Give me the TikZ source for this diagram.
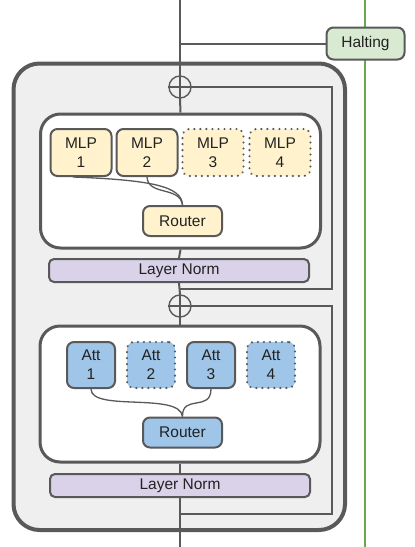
\documentclass[tikz,border=0pt]{standalone}
\usepackage{fontspec}
\setmainfont{Liberation Sans}
\definecolor{edge}{HTML}{595959}
\definecolor{outerfill}{HTML}{EFEFEF}
\definecolor{mlpfill}{HTML}{FFF2CC}
\definecolor{attfill}{HTML}{9FC5E8}
\definecolor{lnfill}{HTML}{D9D2E9}
\definecolor{haltfill}{HTML}{D9EAD3}
\definecolor{haltline}{HTML}{6AA84F}
\definecolor{txt}{HTML}{222222}
\tikzset{
  x=1pt, y=-1pt,
  wire/.style={draw=edge, line width=2pt},
  thin wire/.style={draw=edge, line width=1.3pt},
  box/.style={draw=edge, line width=2pt, rounded corners=7pt, inner sep=0pt, align=center,
    text=txt, font=\fontsize{15.5}{19}\selectfont},
  mlpbox/.style={box, fill=mlpfill, minimum width=61pt, minimum height=47pt},
  attbox/.style={box, fill=attfill, minimum width=48pt, minimum height=46pt},
  dotbox/.style={draw=none, postaction={draw=edge, line width=2.4pt, line cap=round,
    dash pattern=on 0.01pt off 6pt, rounded corners=7pt}},
  routerbox/.style={box, minimum width=79pt, minimum height=30pt},
  lnbox/.style={box, fill=lnfill, minimum width=260pt, minimum height=23pt, rounded corners=5pt},
  blockbox/.style={draw=edge, line width=3pt, fill=white, rounded corners=20pt},
  addnode/.style={circle, draw=edge, line width=1.4pt, minimum size=22pt, inner sep=0pt},
}
\begin{document}
\begin{tikzpicture}
\path[use as bounding box] (0,0) rectangle (415,547);
% halting line
\draw[draw=haltline, line width=2pt] (365,0) coordinate (gtop) -- (365,547) coordinate (gbot);
% outer block
\draw[draw=edge, line width=4pt, fill=outerfill, rounded corners=26pt] (13.5,63.5) rectangle (345,530);
% coordinates along main line
\coordinate (top) at (180,0);
\coordinate (bot) at (180,547);
\coordinate (hj) at (180,43.5);
\coordinate (r1) at (180,289);
\coordinate (r2) at (180,513.5);
% add nodes
\node[addnode] (c1) at (180,87) {};
\node[addnode] (c2) at (180,306) {};
% inner blocks
\node[blockbox, minimum width=280pt, minimum height=134pt, inner sep=0pt] (mlpblk) at (180.5,181) {};
\node[blockbox, minimum width=280pt, minimum height=136pt, inner sep=0pt] (attblk) at (180,394) {};
% layer norms
\node[lnbox] (ln1) at (179,270.5) {Layer Norm};
\node[lnbox] (ln2) at (180,485.5) {Layer Norm};
% MLP experts
\node[mlpbox] (m1) at (81,152.5) {MLP\\1};
\node[mlpbox] (m2) at (147,152.5) {MLP\\2};
\node[mlpbox, dotbox] (m3) at (213,152.5) {MLP\\3};
\node[mlpbox, dotbox] (m4) at (280,152.5) {MLP\\4};
\node[routerbox, fill=mlpfill] (rt1) at (182.5,221) {Router};
% Att experts
\node[attbox] (a1) at (91,365) {Att\\1};
\node[attbox, dotbox] (a2) at (151,365) {Att\\2};
\node[attbox] (a3) at (211,365) {Att\\3};
\node[attbox, dotbox] (a4) at (271,365) {Att\\4};
\node[routerbox, fill=attfill] (rt2) at (182.5,432.5) {Router};
% halting
\node[box, fill=haltfill, minimum width=78pt, minimum height=32pt] (halt) at (365.5,43.5) {Halting};
% main line
\draw[wire] (top) -- (c1.north);
\draw[wire] (c1.south) -- (mlpblk.north);
\draw[wire] (mlpblk.south) -- (ln1.north);
\draw[wire] (ln1.south) -- (c2.north);
\draw[wire] (c2.south) -- (attblk.north);
\draw[wire] (attblk.south) -- (ln2.north);
\draw[wire] (ln2.south) -- (bot);
% plus signs
\draw[draw=edge, line width=1.4pt] (c1.north) -- (c1.south) (c1.west) -- (c1.east);
\draw[draw=edge, line width=1.4pt] (c2.north) -- (c2.south) (c2.west) -- (c2.east);
% halting branch
\draw[wire] (hj) -- (halt.west);
% residuals
\draw[wire] (r1) -- (332,289) |- (c1.east);
\draw[wire] (r2) -- (332,513.5) |- (c2.east);
% routing curves
\draw[thin wire] ([xshift=-8pt]m1.south) .. controls (150,180) and (182,186) .. (rt1.north);
\draw[thin wire] (m2.south) .. controls (148,196) and (180,186) .. (rt1.north);
\draw[thin wire] (a1.south) .. controls (91,412) and (180,392) .. (rt2.north);
\draw[thin wire] (a3.south) .. controls (211,412) and (182,394) .. (rt2.north);
\end{tikzpicture}
\end{document}
